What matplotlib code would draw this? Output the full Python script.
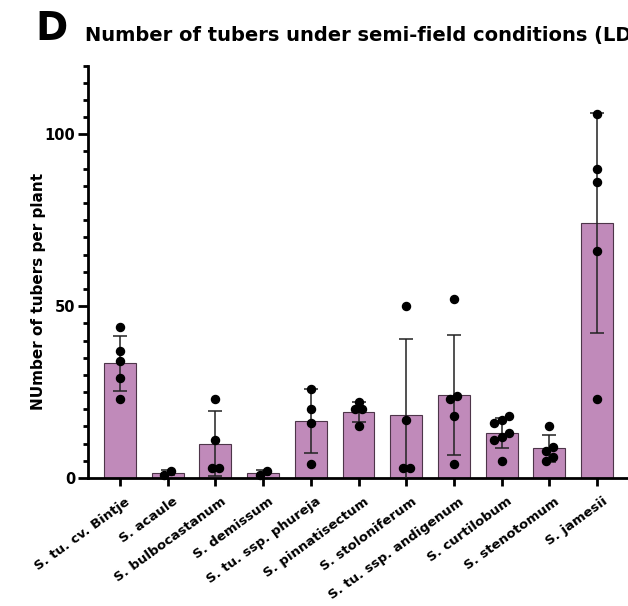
import numpy as np
import matplotlib
matplotlib.use("Agg")
import matplotlib.pyplot as plt
import matplotlib.transforms as mtransforms
from matplotlib.ticker import MultipleLocator

# Tuber counts per plant, one list per genotype
species = [
    "S. tu. cv. Bintje", "S. acaule", "S. bulbocastanum", "S. demissum",
    "S. tu. ssp. phureja", "S. pinnatisectum", "S. stoloniferum",
    "S. tu. ssp. andigenum", "S. curtilobum", "S. stenotomum", "S. jamesii",
]
tubers = [
    [44, 37, 34, 29, 23],
    [1, 2],
    [23, 11, 3, 3],
    [1, 2],
    [26, 20, 16, 4],
    [22, 20, 20, 15],
    [50, 17, 3, 3],
    [52, 24, 23, 18, 4],
    [17, 18, 16, 12, 13, 11, 5],
    [15, 9, 8, 6, 5],
    [106, 90, 86, 66, 23],
]
y_ticks = [0, 50, 100]

BAR_COLOR = "#C08ABA"
BAR_EDGE = "#4d3549"


def spread(vals, gap=1.5, step=0.15):
    """Side-by-side offsets for dots whose values nearly coincide."""
    vals = np.asarray(vals, dtype=float)
    order = np.argsort(vals, kind="stable")
    offs = np.zeros(len(vals))
    groups, cur = [], [order[0]]
    for i in order[1:]:
        if vals[i] - vals[cur[-1]] <= gap:
            cur.append(i)
        else:
            groups.append(cur)
            cur = [i]
    groups.append(cur)
    for g in groups:
        n = len(g)
        for k, idx in enumerate(g):
            offs[idx] = (k - (n - 1) / 2) * step
    return offs


means = np.array([np.mean(v) for v in tubers])
sds = np.array([np.std(v, ddof=1) for v in tubers])
x = np.arange(len(species))

fig = plt.figure(figsize=(6.28, 6.06), dpi=100)
ax = fig.add_axes([88 / 628, 128 / 606, 541 / 628, 412.5 / 606])

ax.bar(x, means, width=0.67, color=BAR_COLOR, edgecolor=BAR_EDGE,
       linewidth=0.8, zorder=2)
ax.errorbar(x, means, yerr=sds, fmt="none", ecolor="#222222",
            elinewidth=1.1, capsize=5, capthick=1.1, zorder=3)
for xi, vals in zip(x, tubers):
    ax.plot(xi + spread(vals), vals, "o", color="black", markersize=5.8,
            linestyle="none", zorder=4, clip_on=False)

ax.set_xlim(-0.67, 10.67)
ax.set_ylim(0, 120)

for side in ("top", "right"):
    ax.spines[side].set_visible(False)
for side in ("left", "bottom"):
    ax.spines[side].set_linewidth(2)

ax.set_yticks(y_ticks)
ax.yaxis.set_minor_locator(MultipleLocator(5))
ax.tick_params(axis="y", which="major", length=7.2, width=2, pad=2,
               labelsize=10.5)
ax.tick_params(axis="y", which="minor", length=3.6, width=2)
for lbl in ax.get_yticklabels():
    lbl.set_fontweight("bold")

ax.set_xticks(x)
ax.set_xticklabels(species, rotation=36, ha="right", va="top",
                   rotation_mode="anchor", fontsize=9.5, fontweight="bold")
ax.tick_params(axis="x", length=5.8, width=2, pad=6.5)
shift = mtransforms.ScaledTranslation(5 / 100, 0, fig.dpi_scale_trans)
for lbl in ax.get_xticklabels():
    lbl.set_transform(lbl.get_transform() + shift)

ax.set_ylabel("NUmber of tubers per plant", fontsize=11, fontweight="bold")
ax.yaxis.set_label_coords(-0.078, 0.453)

fig.text(35 / 628, 1 - 40 / 606, "D", fontsize=28, fontweight="bold",
         ha="left", va="baseline")
fig.text(85 / 628, 1 - 41 / 606,
         "Number of tubers under semi-field conditions (LD)",
         fontsize=14, fontweight="bold", ha="left", va="baseline")

fig.savefig("out.png", dpi=100)
